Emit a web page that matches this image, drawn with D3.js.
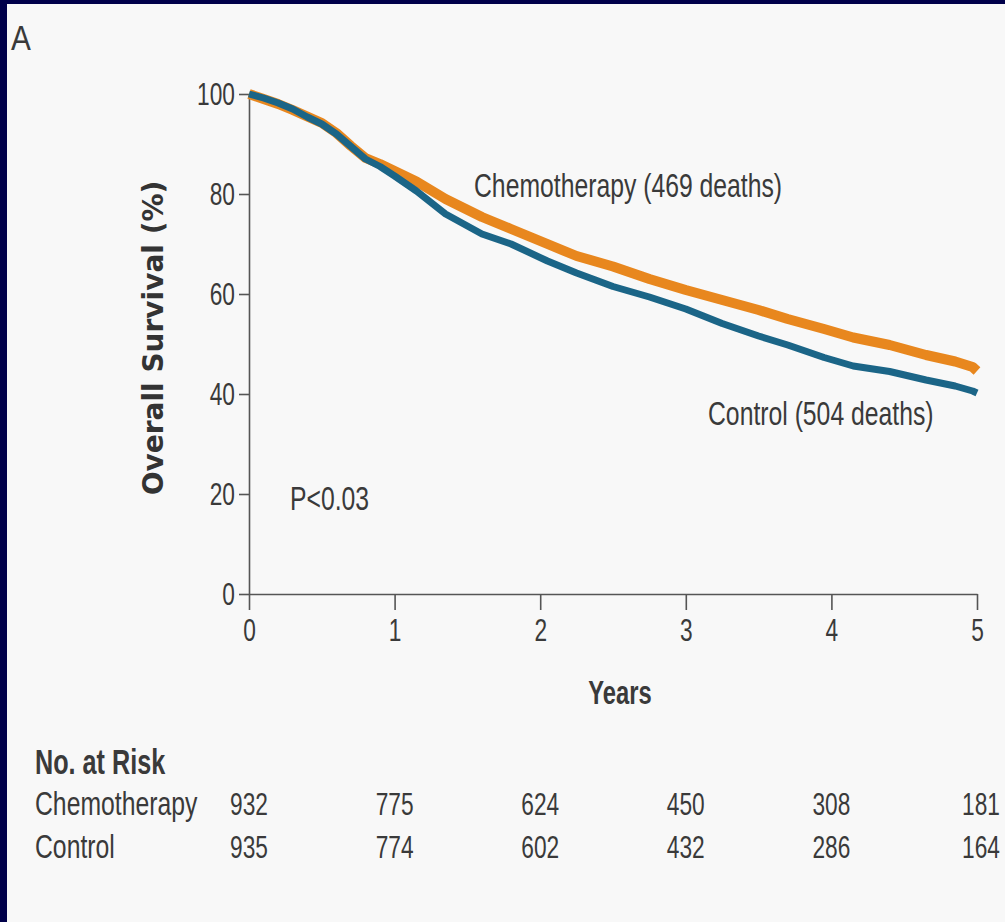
<!DOCTYPE html>
<html>
<head>
<meta charset="utf-8">
<script src="https://cdn.jsdelivr.net/npm/d3@7"></script>
<style>
  body { margin: 0; background: #00004a; }
  svg { display: block; }
  .narrow { font-family: "Liberation Sans", Arial, sans-serif; fill: #3a3a3a; }
  .axis text { font-family: "Liberation Sans", Arial, sans-serif; fill: #3a3a3a; font-size: 32px; }
  .axis path, .axis line { stroke: #555; stroke-width: 1.6; }
</style>
</head>
<body>
<div id="chart"></div>
<script>
// survival curves (years, percent alive)
const times   = [0, 0.1, 0.2, 0.3, 0.4, 0.5, 0.6, 0.7, 0.8, 0.9, 1.0, 1.15, 1.35, 1.6, 1.8, 2.05, 2.25, 2.5, 2.75, 3.0, 3.25, 3.5, 3.7, 3.95, 4.15, 4.4, 4.65, 4.85, 4.97, 5.0]
const chemo   = [100, 99, 98, 96.8, 95.5, 94.2, 92.2, 89.6, 87.2, 86, 84.6, 82.5, 79, 75.4, 73, 70, 67.6, 65.5, 63, 60.8, 58.8, 56.8, 55, 53, 51.3, 49.8, 47.8, 46.5, 45.4, 44.6]
const control = [100, 99.2, 98.2, 97, 95.4, 94, 92, 89.5, 87, 85.5, 83.6, 80.6, 76, 72, 70, 66.6, 64.2, 61.5, 59.4, 57, 54.1, 51.6, 49.8, 47.3, 45.6, 44.5, 42.8, 41.6, 40.6, 40.2]

const xTicks = [0, 1, 2, 3, 4, 5]
const yTicks = [0, 20, 40, 60, 80, 100]

const riskGroups = ["Chemotherapy", "Control"]
const riskChemo = [932, 775, 624, 450, 308, 181]
const riskControl = [935, 774, 602, 432, 286, 164]

const W = 1005, H = 922
const margin = {top: 94, right: 28, bottom: 328, left: 249}
const width = W - margin.left - margin.right
const height = H - margin.top - margin.bottom

// no condensed font installed, so squeeze a normal one sideways
const numSX = 0.71, wordSX = 0.75

const svg = d3.select("#chart")
    .append("svg")
    .attr("width", W)
    .attr("height", H)

svg.append("rect")
    .attr("x", 7).attr("y", 4)
    .attr("width", W - 7).attr("height", H - 4)
    .attr("fill", "#f8f8f8")

const narrowText = (x, y, str, opts = {}) => svg.append("text")
    .classed("narrow", true)
    .attr("transform", `translate(${x}, ${y}) scale(${opts.sx || wordSX}, 1)`)
    .attr("text-anchor", opts.anchor || "start")
    .attr("font-weight", opts.weight || "normal")
    .attr("font-size", opts.size || 33)
    .text(str)

narrowText(11, 50, "A", {size: 35, sx: 0.85})

const g = svg.append("g")
    .attr("transform", `translate(${margin.left}, ${margin.top})`)

const x = d3.scaleLinear().domain([0, 5]).range([0, width])
const y = d3.scaleLinear().domain([0, 100]).range([height, 0])

const xAxis = g.append("g")
    .classed("axis", true)
    .attr("transform", `translate(0, ${height})`)
    .call(d3.axisBottom(x).tickValues(xTicks).tickFormat(d3.format("d"))
        .tickSize(16).tickSizeOuter(0).tickPadding(8))

xAxis.selectAll("text")
    .attr("transform", `scale(${numSX}, 1)`)

const yAxis = g.append("g")
    .classed("axis", true)
    .call(d3.axisLeft(y).tickValues(yTicks).tickSize(10).tickSizeOuter(0).tickPadding(4))

yAxis.selectAll("text")
    .attr("x", -14 / numSX)
    .attr("transform", `scale(${numSX}, 1)`)

const line = series => d3.line()
    .x((d, i) => x(times[i]))
    .y(d => y(d))(series)

g.append("path")
    .attr("d", line(chemo))
    .attr("fill", "none")
    .attr("stroke", "#e8871e")
    .attr("stroke-width", 10)
    .attr("stroke-linejoin", "round")

g.append("path")
    .attr("d", line(control))
    .attr("fill", "none")
    .attr("stroke", "#1b6587")
    .attr("stroke-width", 7)
    .attr("stroke-linejoin", "round")

// labels inside the plot
narrowText(474, 197, "Chemotherapy (469 deaths)")
narrowText(708, 425, "Control (504 deaths)")
narrowText(290, 510, "P<0.03")

svg.append("text")
    .attr("transform", `translate(163, ${margin.top + height / 2 - 6}) rotate(-90)`)
    .attr("text-anchor", "middle")
    .attr("font-family", "DejaVu Sans, sans-serif")
    .attr("font-weight", "bold")
    .attr("font-size", 28)
    .attr("fill", "#333")
    .text("Overall Survival (%)")

narrowText(620, 704, "Years", {weight: "bold", size: 33, sx: 0.72, anchor: "middle"})

// number at risk table
narrowText(35, 774, "No. at Risk", {weight: "bold", size: 35, sx: 0.72})

const rows = [riskChemo, riskControl]
rows.forEach((vals, r) => {
    const yy = 815 + r * 43
    narrowText(35, yy, riskGroups[r])
    vals.forEach((v, i) => {
        narrowText(margin.left + x(xTicks[i]) + (i === 5 ? 4 : 0), yy, v,
            {sx: numSX, size: 32, anchor: "middle"})
    })
})
</script>
</body>
</html>
